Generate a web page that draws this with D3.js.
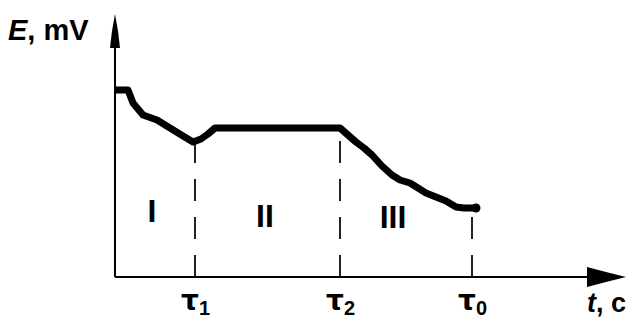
<!DOCTYPE html>
<meta charset="utf-8">
<style>
  body { margin: 0; background: #fff; }
  text { font-family: "Liberation Sans", Arial, sans-serif; font-weight: bold; fill: #000; }
</style>
<script src="https://cdn.jsdelivr.net/npm/d3@7"></script>
<div id="chart"></div>
<script>

// curve (t in arbitrary units, E in arbitrary mV)
var tVals = [0, 1.3, 1.8, 2.8, 4.2, 5.5, 6.8, 7.8, 8.6, 9.3, 10, 22.5, 23.3, 24.1, 24.9, 25.7, 26.7, 27.7, 28.5, 29.5, 30.3, 31.1, 32.1, 33.1, 34.1, 34.9, 36.1];
var eVals = [187, 187, 174, 162, 157, 149, 141, 135, 138, 143, 149, 149, 142, 135, 129, 122, 111, 102, 97, 94, 89, 84, 80, 76, 70, 69, 69];

// special times on the t axis
var tickVals = [8, 22.5, 35.7];
var tickSubs = ["1", "2", "0"];
var tickEnds = [135, 149, 69];   // where each dashed line meets the curve

// stage labels
var stageNames = ["I", "II", "III"];
var stageT = [3.7, 15, 27.8];
var stageE = [55, 50, 49];

var width = 631, height = 324;

var svg = d3.select("#chart")
  .append("svg")
    .attr("width", width)
    .attr("height", height);

var x = d3.scaleLinear().domain([0, 50]).range([115, 615]);
var y = d3.scaleLinear().domain([0, 260]).range([277, 17]);

// dashed guides from the axis up to the curve
svg.selectAll(".guide")
  .data(tickVals)
  .enter()
  .append("line")
    .attr("x1", function(d) { return x(d); })
    .attr("x2", function(d) { return x(d); })
    .attr("y1", y(0))
    .attr("y2", function(d, i) { return y(tickEnds[i]); })
    .attr("stroke", "#222")
    .attr("stroke-width", 2)
    .attr("stroke-dasharray", "22,16");

// x axis
var xAxis = svg.append("g")
  .attr("transform", "translate(0," + y(0) + ")")
  .call(d3.axisBottom(x).tickValues(tickVals).tickSize(0).tickSizeOuter(0).tickFormat(""));
xAxis.select(".domain")
  .attr("d", "M" + x(0) + ",0H590")
  .attr("stroke", "#000")
  .attr("stroke-width", 2);
xAxis.selectAll(".tick text")
  .attr("y", 33)
  .attr("dy", 0)
  .attr("dx", 0)
  .style("font-size", "28px")
  .style("font-family", "'DejaVu Sans', sans-serif")
  .each(function(d, i) {
    var t = d3.select(this).text(null);
    t.append("tspan").text("τ");
    t.append("tspan").attr("dy", 5).style("font-size", "20px")
      .style("font-family", "'Liberation Sans', Arial, sans-serif").text(tickSubs[i]);
  });

// y axis
var yAxis = svg.append("g")
  .attr("transform", "translate(" + x(0) + ",0)")
  .call(d3.axisLeft(y).tickValues([]).tickSizeOuter(0));
yAxis.select(".domain")
  .attr("d", "M0," + y(0) + "V45")
  .attr("stroke", "#000")
  .attr("stroke-width", 2);

// arrow heads
svg.append("path")
  .attr("d", "M115,14 L118,31 L120,48 L110,48 L112,31 Z")
  .attr("fill", "#000");
svg.append("path")
  .attr("d", "M587,267 L606,272 L626,277 L606,282 L587,287 Z")
  .attr("fill", "#000");

// axis titles
var eTitle = svg.append("text").attr("x", 8).attr("y", 40).style("font-size", "29px");
eTitle.append("tspan").style("font-style", "italic").text("E");
eTitle.append("tspan").text(", mV");

var tTitle = svg.append("text").attr("x", 587).attr("y", 312).style("font-size", "27px");
tTitle.append("tspan").style("font-style", "italic").text("t");
tTitle.append("tspan").text(", c");

// curve
var line = d3.line()
  .x(function(d, i) { return x(tVals[i]); })
  .y(function(d) { return y(d); });

svg.append("path")
  .datum(eVals)
  .attr("d", line)
  .attr("fill", "none")
  .attr("stroke", "#000")
  .attr("stroke-width", 7)
  .attr("stroke-linejoin", "round");

svg.append("circle")
  .attr("cx", x(tVals[tVals.length - 1]))
  .attr("cy", y(eVals[eVals.length - 1]))
  .attr("r", 4.5)
  .attr("fill", "#000");

// stage labels
svg.selectAll(".stage")
  .data(stageNames)
  .enter()
  .append("text")
    .attr("x", function(d, i) { return x(stageT[i]); })
    .attr("y", function(d, i) { return y(stageE[i]); })
    .attr("text-anchor", "middle")
    .style("font-size", "32px")
    .text(function(d) { return d; });

</script>
